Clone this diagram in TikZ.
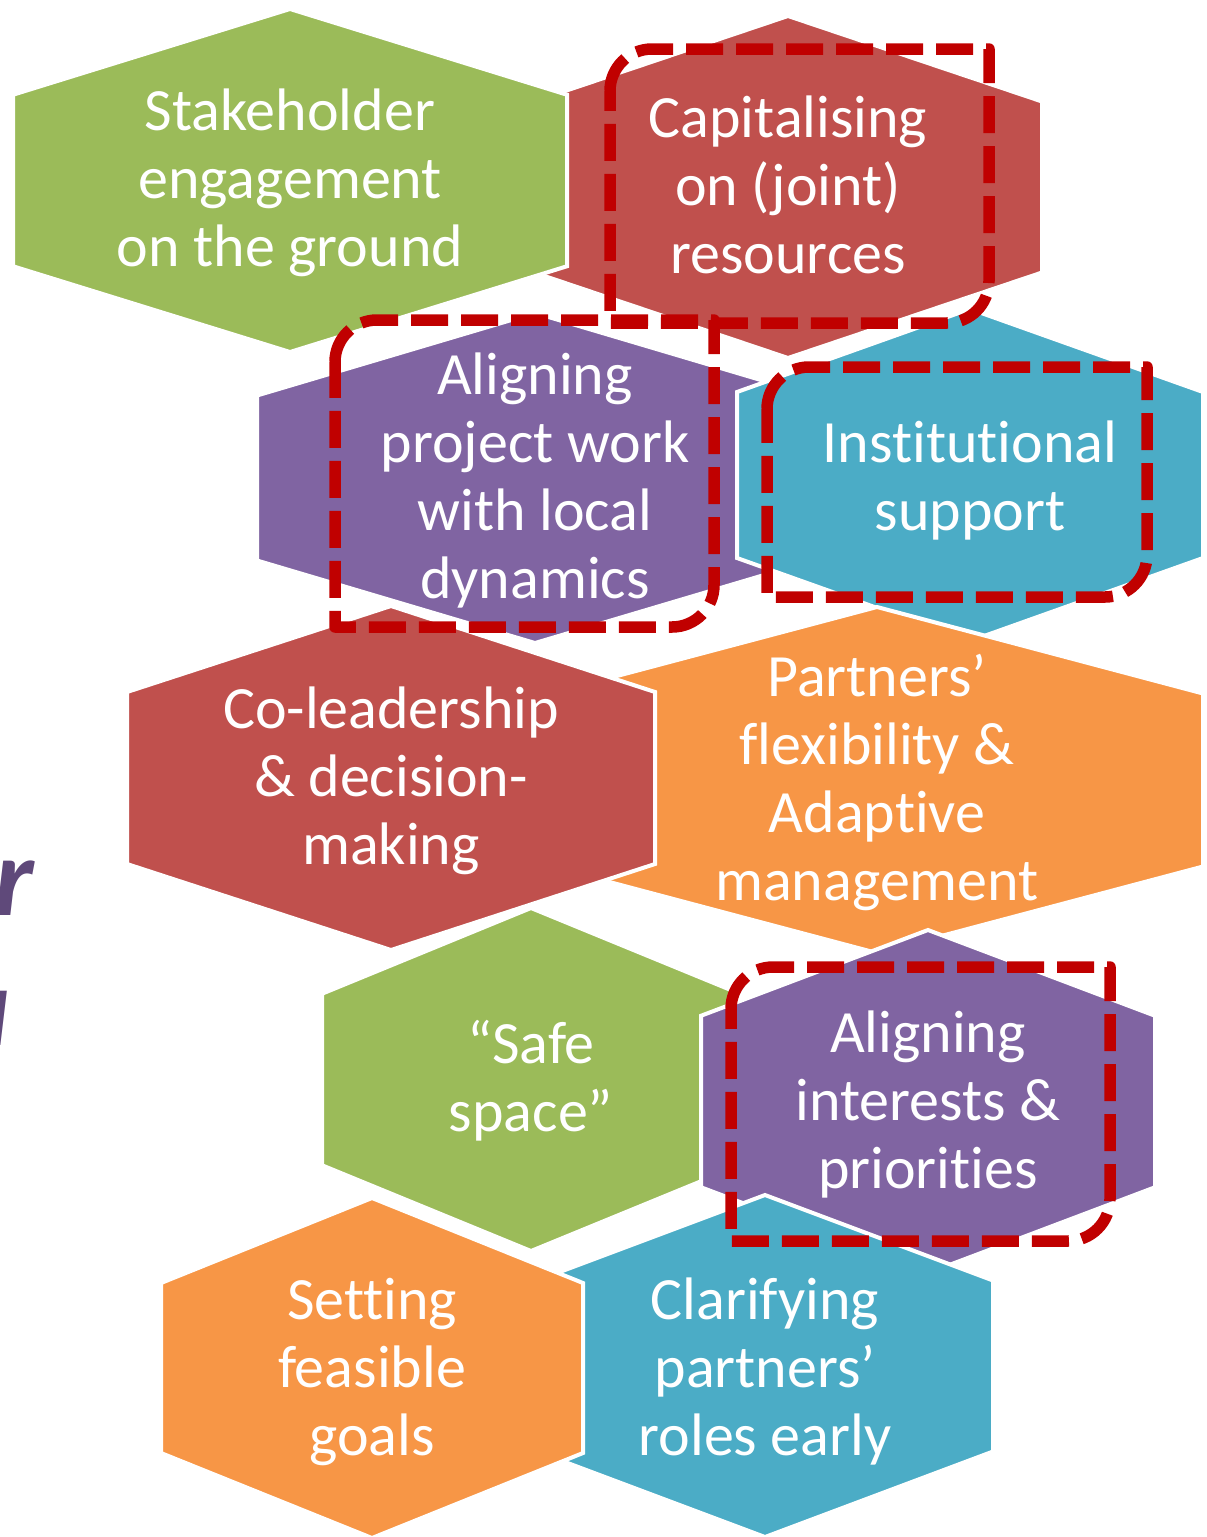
\documentclass[tikz,border=0pt]{standalone}
\usepackage{fontspec}
\setmainfont{Carlito}[Ligatures={TeX,NoCommon}]
\definecolor{hgreen}{HTML}{9BBB59}
\definecolor{hred}{HTML}{C0504D}
\definecolor{hpurple}{HTML}{8064A2}
\definecolor{hblue}{HTML}{4BACC6}
\definecolor{horange}{HTML}{F79646}
\definecolor{dashred}{HTML}{C00000}
\definecolor{titlepurple}{HTML}{5F497A}
% #1 name, #2 colour, #3 centre x, #4 top y, #5 half width, #6 height
\newcommand\hexshape[6]{%
  \filldraw[hexfill, fill=#2] ({#3-#5},{#4+#6/4}) -- (#3,#4) -- ({#3+#5},{#4+#6/4})
    -- ({#3+#5},{#4+3*#6/4}) -- (#3,{#4+#6}) -- ({#3-#5},{#4+3*#6/4}) -- cycle;
  \coordinate (#1) at (#3,{#4+#6/2});
}
% #1 name, #2 x1, #3 y1, #4 x2, #5 y2 : round diagonal corner rectangle
\newcommand\focusbox[5]{%
  \draw[focus] (#2,{#3+42}) .. controls (#2,{#3+18.8}) and ({#2+18.8},#3) .. ({#2+42},#3)
    -- (#4,#3) -- (#4,{#5-42}) .. controls (#4,{#5-18.8}) and ({#4-18.8},#5) .. ({#4-42},#5)
    -- (#2,#5) -- cycle;
  \coordinate (#1) at ({(#2+#4)/2},{(#3+#5)/2});
}
\newcommand\hexlines[1]{\begin{tabular}[t]{@{}c@{}}#1\end{tabular}}
\begin{document}
\begin{tikzpicture}[x=1pt,y=-1pt,
  hexfill/.style={draw=white, line width=4pt, line join=miter},
  focus/.style={draw=dashred, line width=11.5pt, dash pattern=on 37pt off 13pt, line join=round},
  hextext/.style={text=white, inner sep=0pt, anchor=base, font=\fontsize{60}{68}\selectfont},
  titletext/.style={text=titlepurple, inner sep=0pt, anchor=base west, font=\fontsize{112}{130}\selectfont\bfseries\itshape}]
\useasboundingbox (0,0) rectangle (1207,1537);
\clip (0,0) rectangle (1207,1537);

% row 1
\hexshape{hB}{hred}{788}{16}{254}{342}
\node[hextext] (tB) at (788,137) {\hexlines{Capitalising\\on (joint)\\resources}};
\hexshape{hA}{hgreen}{290}{9}{277}{343}
\node[hextext] (tA) at (290,130) {\hexlines{Stakeholder\\engagement\\on the ground}};
% row 2
\hexshape{hC}{hpurple}{535}{313}{278}{330}
\node[hextext] (tC) at (535,394) {\hexlines{Aligning\\project work\\with local\\dynamics}};
\hexshape{hD}{hblue}{970}{309}{233}{332}
\node[hextext] (tD) at (970,462) {\hexlines{Institutional\\support}};
% row 3
\hexshape{hF}{horange}{877}{607}{326}{346}
\node[hextext] (tF) at (877,696) {\hexlines{Partners’\\flexibility \&\\Adaptive\\management}};
\hexshape{hE}{hred}{391}{606}{264}{344}
\node[hextext] (tE) at (391,728) {\hexlines{Co-leadership\\\& decision-\\making}};
% row 4
\hexshape{hG}{hgreen}{531}{908}{209}{343}
\node[hextext] (tG) at (531,1063) {\hexlines{“Safe\\space”}};
\hexshape{hH}{hpurple}{928}{930}{227}{343}
\node[hextext] (tH) at (928,1052) {\hexlines{Aligning\\interests \&\\priorities}};
% row 5
\hexshape{hJ}{hblue}{765}{1195}{228}{342}
\node[hextext] (tJ) at (765,1319) {\hexlines{Clarifying\\partners’\\roles early}};
\hexshape{hI}{horange}{372}{1198}{211}{340}
\node[hextext] (tI) at (372,1319) {\hexlines{Setting\\feasible\\goals}};

% highlighted factors
\focusbox{bB}{610}{49}{989}{323}
\focusbox{bC}{335}{320}{714}{627}
\focusbox{bD}{767}{367}{1147}{597}
\focusbox{bH}{731}{967}{1110}{1241}

% cut-off title letters at the left edge
\node[titletext] (title1) at (-6,915) {r};
\node[titletext] (title2) at (-17,1045) {ı};
\end{tikzpicture}
\end{document}
